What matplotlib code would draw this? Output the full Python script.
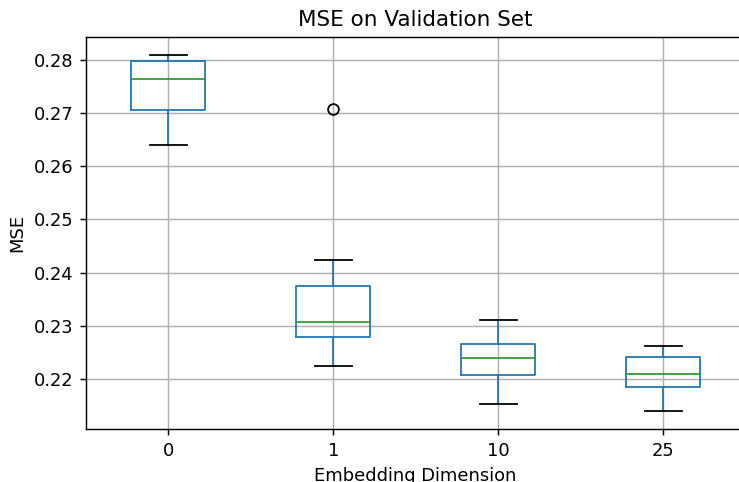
import matplotlib
matplotlib.use("Agg")
import matplotlib.pyplot as plt

# values
dims = ["0", "1", "10", "25"]
whislo = [0.2641, 0.2223, 0.2152, 0.2138]
q1 = [0.2706, 0.2278, 0.2206, 0.2184]
med = [0.2764, 0.2306, 0.2238, 0.2208]
q3 = [0.2799, 0.2374, 0.2266, 0.2241]
whishi = [0.2811, 0.2424, 0.2310, 0.2262]
fliers = [[], [0.2708], [], []]

stats = []
for i in range(len(dims)):
    stats.append(dict(label=dims[i], whislo=whislo[i], q1=q1[i], med=med[i],
                      q3=q3[i], whishi=whishi[i], fliers=fliers[i]))

DPI = 129
fig = plt.figure(figsize=(739 / DPI, 482 / DPI), dpi=DPI)
ax = fig.add_axes([0.116, 0.1093, 0.893, 0.8146])

ax.bxp(stats, widths=0.45,
       boxprops=dict(color="C0"),
       whiskerprops=dict(color="C0"),
       medianprops=dict(color="C2"),
       capprops=dict(color="k"),
       flierprops=dict(marker="o", markeredgecolor="k", markerfacecolor="none"))
ax.grid(True)
ax.set_xlim(0.5, 4.5)
lo, hi = min(whislo), max(max(whishi), max(sum(fliers, [])))
pad = (hi - lo) * 0.05
ax.set_ylim(lo - pad, hi + pad)
ax.set_yticks([0.22, 0.23, 0.24, 0.25, 0.26, 0.27, 0.28])
ax.set_title("MSE on Validation Set")
ax.set_xlabel("Embedding Dimension")
ax.set_ylabel("MSE")

fig.savefig("out.png", dpi=DPI)
